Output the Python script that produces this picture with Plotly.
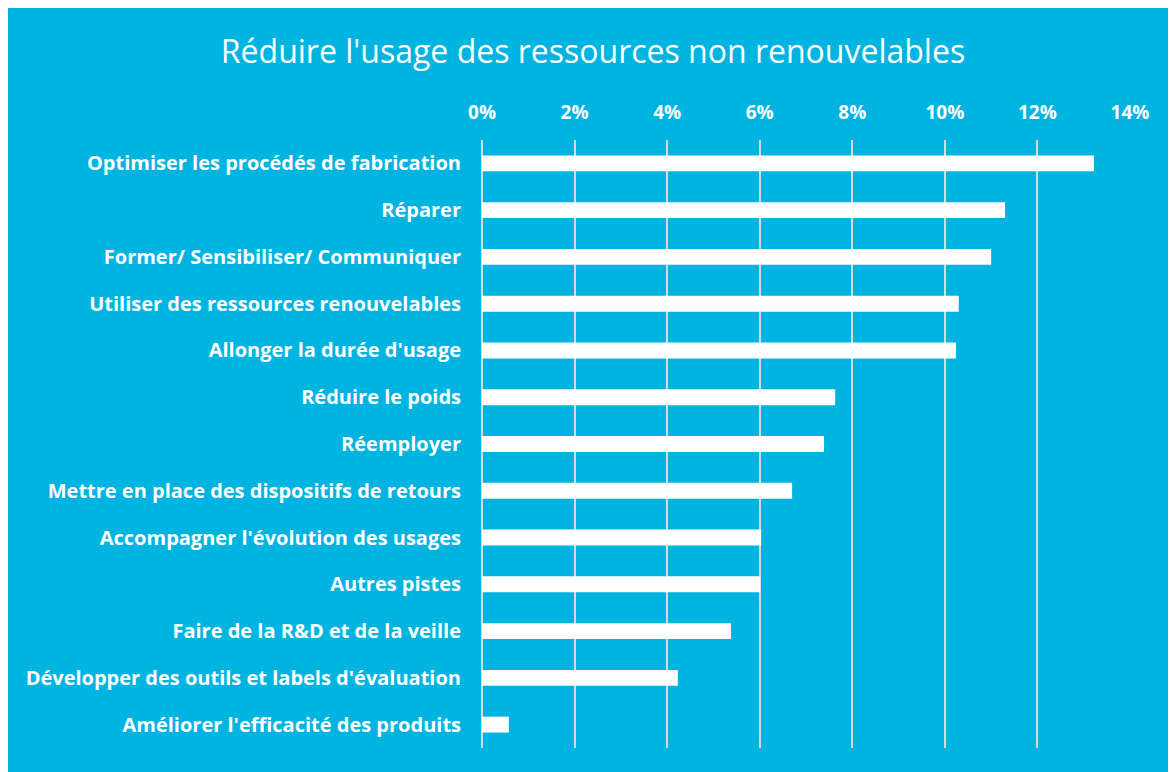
import plotly.graph_objects as go

# data (share of answers, in %)
categories = [
    "Optimiser les procédés de fabrication",
    "Réparer",
    "Former/ Sensibiliser/ Communiquer",
    "Utiliser des ressources renouvelables",
    "Allonger la durée d'usage",
    "Réduire le poids",
    "Réemployer",
    "Mettre en place des dispositifs de retours",
    "Accompagner l'évolution des usages",
    "Autres pistes",
    "Faire de la R&D et de la veille",
    "Développer des outils et labels d'évaluation",
    "Améliorer l'efficacité des produits",
]
values = [13.22, 11.30, 11.00, 10.30, 10.24, 7.63, 7.39, 6.70, 6.03, 6.01, 5.38, 4.23, 0.58]
tick_vals = [0, 2, 4, 6, 8, 10, 12, 14]
tick_text = ["0%", "2%", "4%", "6%", "8%", "10%", "12%", "14%"]

blue = "#00B4E1"
grid = "#d9d9d9"
font_name = "Open Sans"

fig = go.Figure()
fig.add_trace(go.Bar(
    y=categories, x=values, orientation='h',
    marker_color='white', marker_line_width=0, width=0.34))

# the page adds an 8px body margin, so the figure starts at (8, 8)
FW, FH = 1176, 772
L, R, T, B = 474, 1122, 132, 740
fig.update_layout(
    width=FW, height=FH,
    margin=dict(l=L, r=FW - R, t=T, b=FH - B),
    paper_bgcolor=blue, plot_bgcolor=blue,
    showlegend=False,
    title=dict(text="Réduire l'usage des ressources non renouvelables",
               x=585 / FW, xanchor="center", y=1 - 44 / FH, yanchor="middle",
               font=dict(family=font_name, size=32, color="white")),
)
fig.update_xaxes(side="top", range=[0, 14], tickvals=tick_vals, ticktext=tick_text,
                 showgrid=True, gridcolor=grid, gridwidth=1.5,
                 zeroline=True, zerolinecolor=grid, zerolinewidth=1.5,
                 showline=False, ticks="", ticklabelstandoff=16,
                 tickfont=dict(family=font_name, size=19, color="white", weight="bold"))
fig.update_yaxes(autorange="reversed", showgrid=False, ticks="", showline=False,
                 ticklabelstandoff=20,
                 tickfont=dict(family=font_name, size=20, color="white", weight="bold"))

# no scrollbars: the blue card runs off the right and bottom edges
fig.write_html("out.html", post_script="document.body.style.overflow='hidden';")
